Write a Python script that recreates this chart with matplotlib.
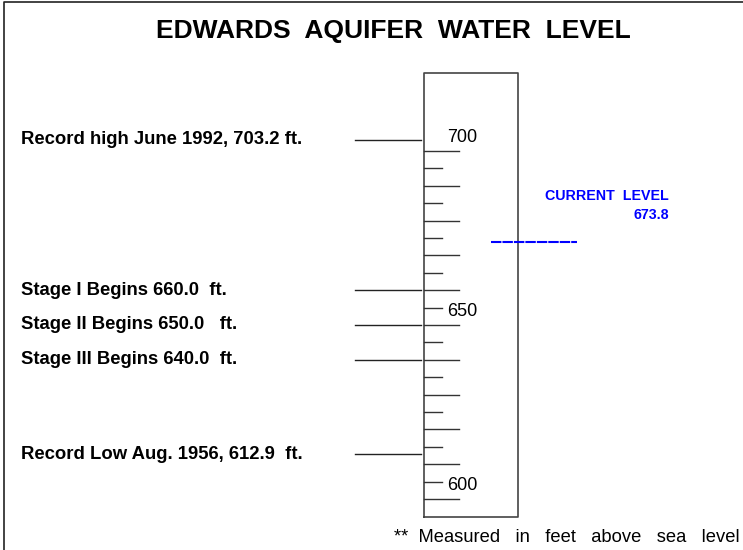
import matplotlib.pyplot as plt

# gauge marks (ft above sea level)
scale_min, scale_max = 600, 700
scale_labels = [700, 650, 600]
events = ["Record high June 1992, 703.2 ft.",
          "Stage I Begins 660.0  ft.",
          "Stage II Begins 650.0   ft.",
          "Stage III Begins 640.0  ft.",
          "Record Low Aug. 1956, 612.9  ft."]
event_levels = [703.2, 660.0, 650.0, 640.0, 612.9]
current_level = 673.8

plt.rcParams['font.family'] = ['Liberation Sans', 'DejaVu Sans']

fig = plt.figure(figsize=(7.43, 5.50), dpi=100)
ax = fig.add_axes([0, 0, 1, 1])
# x in pixels, y in feet: 700 ft sits at 151 px, 600 ft at 499 px
px_per_ft = (499 - 151) / (scale_max - scale_min)
ax.set_xlim(0, 743)
ax.set_ylim(scale_min - (550 - 499) / px_per_ft, scale_max + 151 / px_per_ft)
ax.axis('off')

def ft(py):
    # pixel row -> feet, for layout only
    return scale_max + (151 - py) / px_per_ft

# frame around the picture (left and top)
ax.plot([3.5, 3.5, 743], [ft(550), ft(2.5), ft(2.5)], color='#222222', lw=1.2)

#title
ax.text(393, ft(31), "EDWARDS  AQUIFER  WATER  LEVEL", ha='center', va='center',
        fontsize=19, fontweight='bold')

# gauge box
gl, gr = 424, 518
ax.plot([gl, gl, gr, gr, gl], [ft(517), ft(73), ft(73), ft(517), ft(517)],
        color='#444444', lw=1.2)

# ticks every 5 ft, long every 10
for v in range(scale_min, scale_max + 1, 5):
    right = 459 if v % 10 == 0 else 442
    ax.plot([gl, right], [v, v], color='#333333', lw=1)

for v in scale_labels:
    ax.text(447, v + 4, str(v), ha='left', va='center', fontsize=13)

# event lines and labels
for name, lev in zip(events, event_levels):
    ax.plot([355, 421], [lev, lev], color='#222222', lw=1)
    ax.text(21, lev, name, ha='left', va='center', fontsize=13.3, fontweight='bold')

# current level
ax.plot([491, 577], [current_level, current_level], color='#0000ff', lw=1.5,
        linestyle=(0, (5, 0.5)))
ax.text(669, ft(196), "CURRENT  LEVEL", ha='right', va='center', color='#0000ff',
        fontsize=10.3, fontweight='bold')
ax.text(669, ft(215), f"{current_level:.1f}", ha='right', va='center', color='#0000ff',
        fontsize=10.3, fontweight='bold')

ax.text(740, ft(537), "**  Measured   in   feet   above   sea   level", ha='right', va='center',
        fontsize=13.2)

fig.savefig('out.png', dpi=100)
